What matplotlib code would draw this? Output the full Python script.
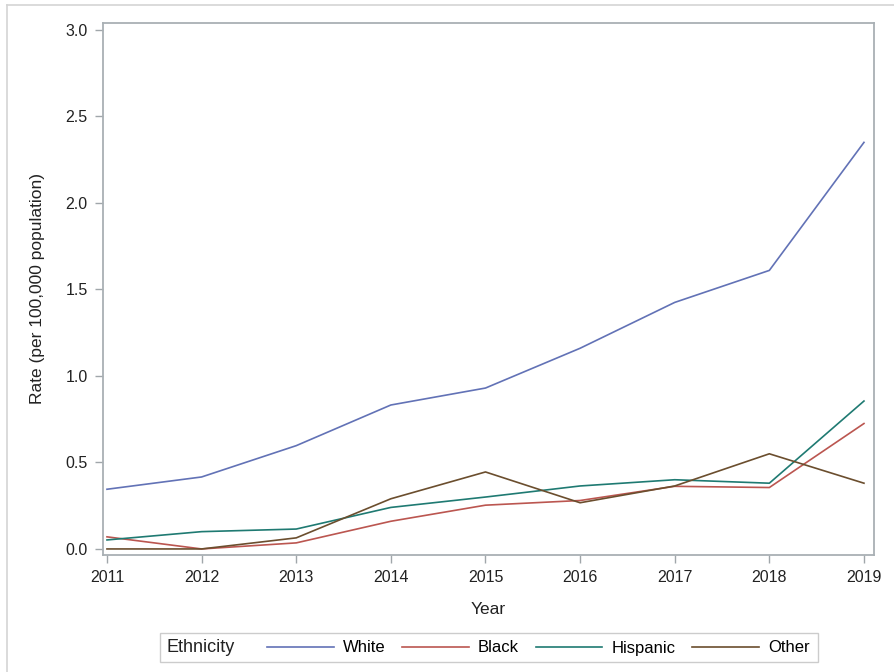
import matplotlib.pyplot as plt
from matplotlib.lines import Line2D
from matplotlib.patches import Rectangle

plt.rcParams['font.family'] = ['Liberation Sans', 'DejaVu Sans']

years = [2011, 2012, 2013, 2014, 2015, 2016, 2017, 2018, 2019]
white = [0.345, 0.416, 0.597, 0.832, 0.93, 1.16, 1.425, 1.61, 2.35]
black = [0.07, 0.0, 0.035, 0.16, 0.253, 0.28, 0.362, 0.355, 0.725]
hispanic = [0.052, 0.10, 0.115, 0.24, 0.30, 0.364, 0.40, 0.38, 0.855]
other = [0.0, 0.0, 0.064, 0.29, 0.445, 0.267, 0.364, 0.55, 0.38]

series = [("White", white, "#6272b6"),
          ("Black", black, "#bb5650"),
          ("Hispanic", hispanic, "#1f7a72"),
          ("Other", other, "#6b4e2e")]

W, H = 894, 672
fig = plt.figure(figsize=(W / 100, H / 100), dpi=100)
ax = fig.add_axes([103 / W, 1 - 555 / H, (874 - 103) / W, (555 - 23) / H])

for name, vals, col in series:
    ax.plot(years, vals, color=col, lw=1.2, label=name)

ax.set_xlim(2010.958, 2019.106)
ax.set_ylim(-0.035, 3.04)
ax.set_xticks(years)
ax.set_yticks([0, 0.5, 1.0, 1.5, 2.0, 2.5, 3.0])
ax.set_yticklabels(["0.0", "0.5", "1.0", "1.5", "2.0", "2.5", "3.0"])
ax.tick_params(colors="#a0a6aa", labelcolor="#222222", labelsize=11.5,
               length=6, width=1, pad=5)
for s in ax.spines.values():
    s.set_color("#a9b0b4")
    s.set_linewidth(1.3)
ax.set_xlabel("Year", fontsize=12.5, color="#222222", labelpad=12)
ax.set_ylabel("Rate (per 100,000 population)", fontsize=12.5,
              color="#222222", labelpad=15)

# outer frame
fig.add_artist(Line2D([7 / W, 7 / W], [0, 1 - 5 / H], color="#d4d4d4", lw=1.2))
fig.add_artist(Line2D([7 / W, 1], [1 - 5 / H, 1 - 5 / H], color="#d4d4d4", lw=1.2))

# legend box
fig.add_artist(Rectangle((160 / W, 1 - 662 / H), 658 / W, 29 / H,
                         transform=fig.transFigure, fill=False,
                         edgecolor="#cccccc", lw=1))
fig.text(167 / W, 1 - 648 / H, "Ethnicity", fontsize=13, color="#222222",
         va="center", ha="left")
fig.legend(loc="center left", bbox_to_anchor=(267 / W, 1 - 648 / H),
           ncol=4, frameon=False, fontsize=12, handlelength=4.0,
           handletextpad=0.55, columnspacing=1.0, borderpad=0,
           borderaxespad=0)

fig.savefig("out.png", dpi=100)
